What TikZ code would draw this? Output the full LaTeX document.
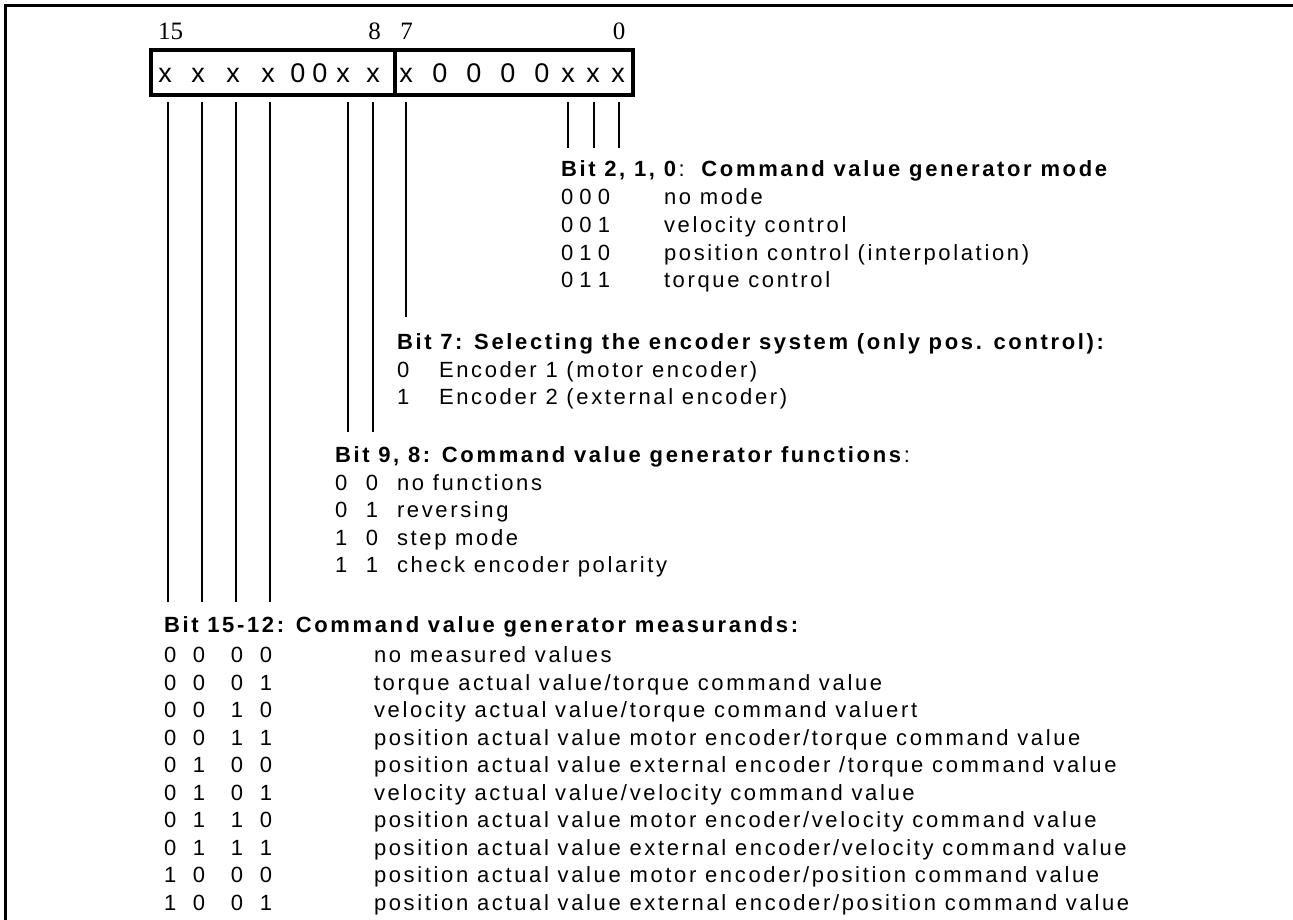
\documentclass[tikz,border=0pt]{standalone}
\usepackage{fontspec}
\newfontfamily\bodyfont{Liberation Sans}[LetterSpace=12]
\newfontfamily\boxfont{Liberation Sans}
\newfontfamily\numfont{Liberation Serif}
\newcommand\threebits[3]{\makebox[18.5pt][l]{#1}\makebox[18.5pt][l]{#2}#3}
\newcommand\twobits[2]{\makebox[31pt][l]{#1}#2}
\newcommand\fourbits[4]{\makebox[29pt][l]{#1}\makebox[38pt][l]{#2}\makebox[29pt][l]{#3}#4}
\tikzset{
  txt/.style={anchor=base west, inner sep=0pt, outer sep=0pt, font=\bodyfont\fontsize{22}{26}\selectfont},
  hdr/.style={txt, font=\bodyfont\bfseries\fontsize{22}{26}\selectfont},
  bitbox/.style={draw, line width=3.5pt, inner sep=0pt, outer sep=0pt, minimum height=45pt},
  bitchar/.style={anchor=base, inner sep=0pt, font=\boxfont\fontsize{27}{32}\selectfont},
  bitnum/.style={anchor=base, inner sep=0pt, font=\numfont\fontsize{25}{29}\selectfont},
  lead/.style={line width=1.9pt},
  frame/.style={line width=3.2pt}
}
\begin{document}
\begin{tikzpicture}[x=1pt,y=-1pt]
\useasboundingbox (0,0) rectangle (1293,920);
% frame (top and left only)
\draw[frame] (1293,5.5) -- (5.3,5.5) -- (5.3,920);
% bit numbers
\node[bitnum] (n15) at (170.5,40) {15};
\node[bitnum] (n8) at (374.5,40) {8};
\node[bitnum] (n7) at (406.5,40) {7};
\node[bitnum] (n0) at (619,40) {0};
% register boxes
\node[bitbox, minimum width=244pt] (hibyte) at (273,72.5) {};
\node[bitbox, minimum width=238pt] (lobyte) at (514,72.5) {};
\foreach \x/\c [count=\i] in {165/x,198/x,233/x,268/x,298/0,320/0,343/x,373/x,406/x,440/0,474/0,508/0,542/0,568/x,593/x,618/x}
  \node[bitchar] (ch\i) at (\x,82.5) {\c};
% leader lines
\foreach \x/\e/\n in {168/602/a,202/602/b,236/602/c,270/602/d,348/432/e,373/432/f,406/317/g,568/148/h,594/148/i,619/148/j} {
  \coordinate (top\n) at (\x,102);
  \coordinate (end\n) at (\x,\e);
  \draw[lead] (top\n) -- (end\n);
}
% Bit 2,1,0
\node[hdr] (h210) at (561,177) {Bit 2, 1, 0\textmd{:}\hspace{14pt}Command value generator mode};
\node[txt] (k210a) at (561,205) {\threebits000}; \node[txt] (d210a) at (664,205) {no mode};
\node[txt] (k210b) at (561,232.5) {\threebits001}; \node[txt] (d210b) at (664,232.5) {velocity control};
\node[txt] (k210c) at (561,260) {\threebits010}; \node[txt] (d210c) at (664,260) {position control (interpolation)};
\node[txt] (k210d) at (561,287.5) {\threebits011}; \node[txt] (d210d) at (664,287.5) {torque control};
% Bit 7
\node[hdr] (h7) at (397,349.5) {Bit 7: Selecting the encoder system (only pos. control):};
\node[txt] (k7a) at (397,377) {0}; \node[txt] (d7a) at (439,377) {Encoder 1 (motor encoder)};
\node[txt] (k7b) at (397,404.5) {1}; \node[txt] (d7b) at (439,404.5) {Encoder 2 (external encoder)};
% Bit 9,8
\node[hdr] (h98) at (335,462) {Bit 9, 8: Command value generator functions\textmd{:}};
\node[txt] (k98a) at (335,490) {\twobits00}; \node[txt] (d98a) at (397,490) {no functions};
\node[txt] (k98b) at (335,517.5) {\twobits01}; \node[txt] (d98b) at (397,517.5) {reversing};
\node[txt] (k98c) at (335,545) {\twobits10}; \node[txt] (d98c) at (397,545) {step mode};
\node[txt] (k98d) at (335,572.5) {\twobits11}; \node[txt] (d98d) at (397,572.5) {check encoder polarity};
% Bit 15-12
\node[hdr] (h1512) at (164,632.5) {Bit 15-12: Command value generator measurands:};
\node[txt] (kma) at (164,662.5) {\fourbits0000}; \node[txt] (dma) at (374,662.5) {no measured values};
\node[txt] (kmb) at (164,690) {\fourbits0001}; \node[txt] (dmb) at (374,690) {torque actual value/torque command value};
\node[txt] (kmc) at (164,717.5) {\fourbits0010}; \node[txt] (dmc) at (374,717.5) {velocity actual value/torque command valuert};
\node[txt] (kmd) at (164,745) {\fourbits0011}; \node[txt] (dmd) at (374,745) {position actual value motor encoder/torque command value};
\node[txt] (kme) at (164,772.5) {\fourbits0100}; \node[txt] (dme) at (374,772.5) {position actual value external encoder /torque command value};
\node[txt] (kmf) at (164,800) {\fourbits0101}; \node[txt] (dmf) at (374,800) {velocity actual value/velocity command value};
\node[txt] (kmg) at (164,827.5) {\fourbits0110}; \node[txt] (dmg) at (374,827.5) {position actual value motor encoder/velocity command value};
\node[txt] (kmh) at (164,855) {\fourbits0111}; \node[txt] (dmh) at (374,855) {position actual value external encoder/velocity command value};
\node[txt] (kmi) at (164,882.5) {\fourbits1000}; \node[txt] (dmi) at (374,882.5) {position actual value motor encoder/position command value};
\node[txt] (kmj) at (164,910) {\fourbits1001}; \node[txt] (dmj) at (374,910) {position actual value external encoder/position command value};
\end{tikzpicture}
\end{document}
